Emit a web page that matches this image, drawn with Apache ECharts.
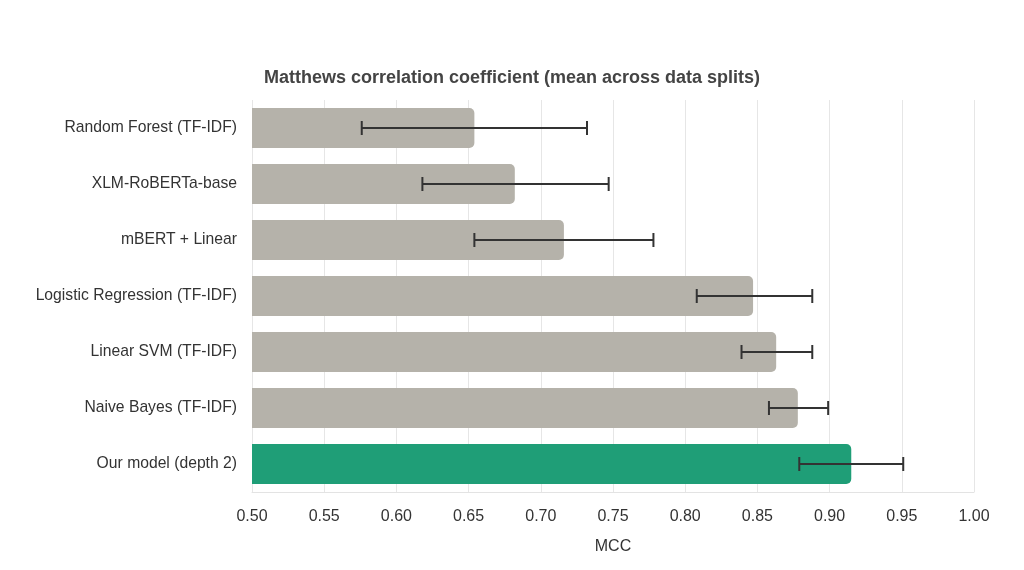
<!DOCTYPE html>
<html>
<head>
<meta charset="utf-8">
<script src="https://cdn.jsdelivr.net/npm/echarts@6/dist/echarts.min.js"></script>
<style>
  html, body { margin: 0; padding: 0; background: #fff; }
  #chart { width: 1024px; height: 570px; }
</style>
</head>
<body>
<div id="chart"></div>
<script>
var models = ['Random Forest (TF-IDF)', 'XLM-RoBERTa-base', 'mBERT + Linear',
  'Logistic Regression (TF-IDF)', 'Linear SVM (TF-IDF)', 'Naive Bayes (TF-IDF)',
  'Our model (depth 2)'];
var mcc = [0.654, 0.682, 0.716, 0.847, 0.863, 0.878, 0.915];
var errLow = [0.576, 0.618, 0.654, 0.808, 0.839, 0.858, 0.879];
var errHigh = [0.732, 0.747, 0.778, 0.888, 0.888, 0.899, 0.951];

var grey = '#b5b2aa';
var green = '#1f9e77';

var chart = echarts.init(document.getElementById('chart'));

var barData = mcc.map(function (v, i) {
  return {
    value: v,
    itemStyle: { color: i === models.length - 1 ? green : grey }
  };
});
var errData = models.map(function (m, i) { return [errLow[i], errHigh[i], i]; });

var option = {
  animation: false,
  backgroundColor: '#fff',
  title: {
    text: 'Matthews correlation coefficient (mean across data splits)',
    left: 'center',
    top: 64,
    textStyle: { fontFamily: 'Liberation Sans', fontSize: 18, fontWeight: 'bold', color: '#444' }
  },
  grid: { left: 252, right: 50, top: 100, bottom: 78 },
  xAxis: {
    type: 'value',
    min: 0.5,
    max: 1.0,
    interval: 0.05,
    name: 'MCC',
    nameLocation: 'middle',
    nameGap: 47,
    nameTextStyle: { fontFamily: 'Liberation Sans', fontSize: 16, color: '#333' },
    axisLine: { show: true, lineStyle: { color: '#e3e3e3' } },
    axisTick: { show: false },
    axisLabel: {
      margin: 17,
      fontFamily: 'Liberation Sans', fontSize: 16, color: '#333',
      formatter: function (v) { return v.toFixed(2); }
    },
    splitLine: { show: true, lineStyle: { color: '#e6e6e6' } }
  },
  yAxis: {
    type: 'category',
    data: models,
    inverse: true,
    axisLine: { show: false },
    axisTick: { show: false },
    axisLabel: { margin: 15, fontFamily: 'Liberation Sans', fontSize: 15.7, color: '#333' }
  },
  series: [
    {
      type: 'bar',
      data: barData,
      barWidth: 40,
      itemStyle: { borderRadius: [0, 5, 5, 0] }
    },
    {
      type: 'custom',
      data: errData,
      encode: { x: [0, 1], y: 2 },
      z: 10,
      renderItem: function (params, api) {
        var lo = api.coord([api.value(0), api.value(2)]);
        var hi = api.coord([api.value(1), api.value(2)]);
        var h = 7;
        var style = { stroke: '#333', lineWidth: 2 };
        return {
          type: 'group',
          children: [
            { type: 'line', shape: { x1: lo[0], y1: lo[1], x2: hi[0], y2: hi[1] }, style: style },
            { type: 'line', shape: { x1: lo[0], y1: lo[1] - h, x2: lo[0], y2: lo[1] + h }, style: style },
            { type: 'line', shape: { x1: hi[0], y1: hi[1] - h, x2: hi[0], y2: hi[1] + h }, style: style }
          ]
        };
      }
    }
  ]
};

chart.setOption(option);
</script>
</body>
</html>
